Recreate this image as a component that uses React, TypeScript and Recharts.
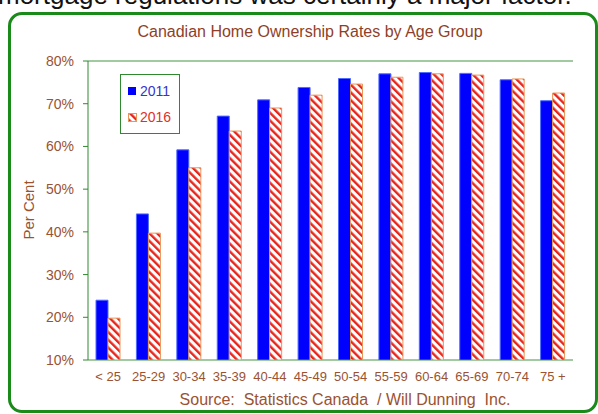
import React from "react";
import {
  BarChart,
  Bar,
  XAxis,
  YAxis,
  CartesianGrid,
} from "recharts";

const ageGroups = ["< 25", "25-29", "30-34", "35-39", "40-44", "45-49", "50-54", "55-59", "60-64", "65-69", "70-74", "75 +"];
const rate2011 = [24.0, 44.2, 59.2, 67.1, 70.9, 73.8, 75.9, 77.0, 77.3, 77.1, 75.6, 70.7];
const rate2016 = [19.8, 39.7, 55.0, 63.6, 69.0, 72.0, 74.6, 76.2, 77.0, 76.7, 75.8, 72.5];
const yTicks = [10, 20, 30, 40, 50, 60, 70, 80];
const bandEdges = [0, 1, 2, 3, 4, 5, 6, 7, 8, 9, 10, 11, 12];

const data = ageGroups.map((g, i) => ({
  group: g,
  pos: i + 0.5,
  y2011: rate2011[i],
  y2016: rate2016[i],
}));

const GREEN = "#2f8a2f";
const BROWN = "#9a5232";
const FONT = "'Liberation Sans', Arial, sans-serif";

const LegendBox = () => (
  <div
    style={{
      position: "absolute",
      left: 120,
      top: 74,
      border: `1px solid ${GREEN}`,
      width: 60,
      height: 60,
      boxSizing: "border-box",
      background: "#fff",
      fontFamily: FONT,
      fontSize: 14,
      padding: "4px 0 0 7px",
    }}
  >
    <div style={{ display: "flex", alignItems: "center", color: "#3434d0", height: 24 }}>
      <span style={{ width: 8, height: 8, background: "#0000ff", marginRight: 4 }} />
      2011
    </div>
    <div style={{ display: "flex", alignItems: "center", color: "#e0302a", height: 28 }}>
      <svg width={9} height={9} style={{ marginRight: 3 }}>
        <rect x={0.5} y={0.5} width={8} height={8} fill="url(#hatch2016)" stroke="#e8965a" />
      </svg>
      2016
    </div>
  </div>
);

export default function App() {
  return (
    <div
      style={{
        position: "absolute",
        left: 0,
        top: 0,
        width: 598,
        height: 414,
        overflow: "hidden",
        background: "#fff",
        fontFamily: FONT,
      }}
    >
      <div
        style={{
          position: "absolute",
          left: -2,
          top: -20,
          fontSize: 26,
          color: "#111",
          whiteSpace: "nowrap",
        }}
      >
        mortgage regulations was certainly a major factor.
      </div>
      <div
        style={{
          position: "absolute",
          left: 8,
          top: 12,
          width: 590,
          height: 401,
          boxSizing: "border-box",
          border: "3px solid #1a8a1a",
          borderRadius: 14,
        }}
      />
      <div
        style={{
          position: "absolute",
          left: 0,
          width: 620,
          top: 23,
          textAlign: "center",
          fontSize: 16,
          color: "#8e3f2a",
        }}
      >
        Canadian Home Ownership Rates by Age Group
      </div>
      <div
        style={{
          position: "absolute",
          left: 28,
          top: 210,
          transform: "translate(-50%, -50%) rotate(-90deg)",
          fontSize: 15,
          color: BROWN,
          whiteSpace: "nowrap",
        }}
      >
        Per Cent
      </div>
      <div
        style={{
          position: "absolute",
          left: 0,
          width: 690,
          top: 391,
          textAlign: "center",
          fontSize: 16,
          color: BROWN,
          whiteSpace: "pre",
        }}
      >
        {"Source:  Statistics Canada  / Will Dunning  Inc."}
      </div>
      <div style={{ position: "absolute", left: 0, top: 0 }}>
        <BarChart
          width={598}
          height={414}
          data={data}
          margin={{ top: 61, right: 25, bottom: 24, left: 0 }}
          barSize={12}
          barGap={0}
        >
          <defs>
            <pattern
              id="hatch2016"
              patternUnits="userSpaceOnUse"
              width={5.5}
              height={5.5}
              patternTransform="rotate(-45)"
            >
              <rect width={5.5} height={5.5} fill="#ffffff" />
              <rect width={2.4} height={5.5} fill="#e8251c" />
            </pattern>
          </defs>
          <CartesianGrid horizontal vertical={false} stroke={GREEN} strokeOpacity={0.9} />
          <XAxis
            xAxisId="edges"
            type="number"
            dataKey="pos"
            domain={[0, 12]}
            ticks={bandEdges}
            allowDataOverflow
            height={0}
            axisLine={{ stroke: GREEN }}
            tickLine={{ stroke: GREEN }}
            tickSize={5}
            tickFormatter={() => ""}
          />
          <XAxis
            xAxisId="cat"
            dataKey="group"
            height={30}
            axisLine={false}
            tickLine={false}
            tickSize={6}
            tickMargin={6}
            interval={0}
            tick={{ fill: BROWN, fontSize: 13, fontFamily: FONT }}
          />
          <YAxis
            yAxisId="left"
            width={88}
            domain={[10, 80]}
            ticks={yTicks}
            allowDataOverflow
            tickFormatter={(v) => `${v}%`}
            axisLine={{ stroke: GREEN }}
            tickLine={{ stroke: GREEN }}
            tickSize={5}
            tickMargin={9}
            tick={{ fill: BROWN, fontSize: 14, fontFamily: FONT }}
          />
          <YAxis
            yAxisId="right"
            orientation="right"
            width={0}
            domain={[10, 80]}
            axisLine={{ stroke: GREEN }}
            tick={false}
            tickLine={false}
          />
          <Bar
            xAxisId="cat"
            yAxisId="left"
            dataKey="y2011"
            name="2011"
            fill="#0000ff"
            stroke="#4f6cff"
            strokeWidth={1}
            isAnimationActive={false}
          />
          <Bar
            xAxisId="cat"
            yAxisId="left"
            dataKey="y2016"
            name="2016"
            fill="url(#hatch2016)"
            stroke="#e8965a"
            strokeWidth={1}
            isAnimationActive={false}
          />
        </BarChart>
      </div>
      <LegendBox />
    </div>
  );
}
